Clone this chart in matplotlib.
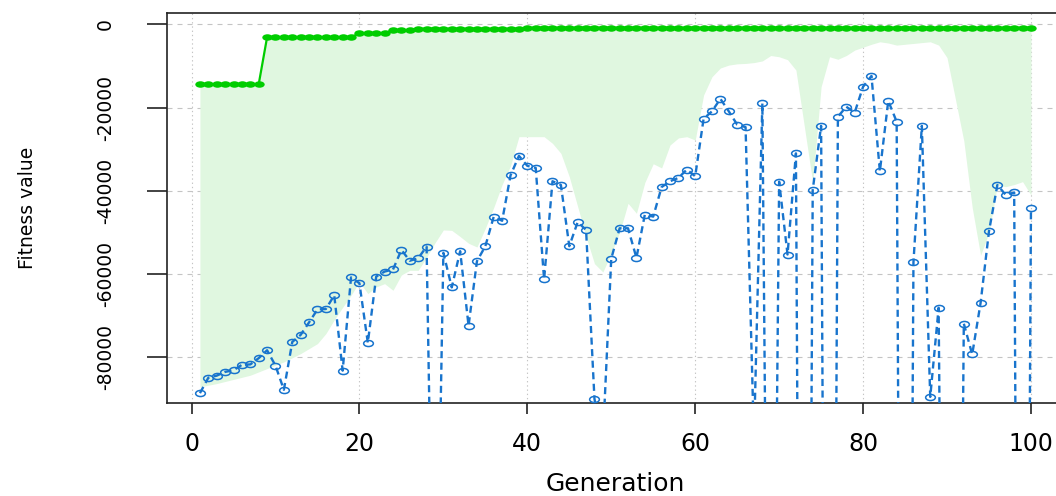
import numpy as np
import matplotlib
matplotlib.use("Agg")
import matplotlib.pyplot as plt
from matplotlib.path import Path

plt.rcParams['font.family'] = ['DejaVu Sans']
plt.rcParams['axes.unicode_minus'] = False

# GA run: best, mean and median fitness per generation
generation = list(range(1, 101))

best = ([-14400] * 8 + [-3100] * 11 + [-2200] * 4 + [-1400] * 3
        + [-1050] * 13 + [-800] * 61)

mean = [-88600, -84900, -84400, -83500, -83100, -81800, -81700, -80200, -78300, -82000,
        -87800, -76300, -74600, -71600, -68500, -68400, -65100, -83200, -60800, -62200,
        -76500, -60600, -59400, -58900, -54200, -56800, -56200, -53400, -170000, -54900,
        -63200, -54500, -72400, -56900, -53300, -46200, -47200, -36300, -31600, -34000,
        -34500, -61300, -37700, -38600, -53300, -47500, -49400, -90000, -100000, -56300,
        -49000, -49000, -56100, -45700, -46200, -39100, -37700, -36900, -34900, -36500,
        -22700, -20900, -17900, -20900, -24100, -24700, -100000, -19000, -250000, -37800,
        -55300, -31000, -400000, -39800, -24400, -400000, -22200, -19800, -21200, -15000,
        -12400, -35300, -18400, -23400, -400000, -57200, -24400, -89500, -68100, -300000,
        -300000, -71900, -79300, -66900, -49700, -38600, -41000, -40400, -400000, -44200]

median = [-87100, -86700, -86300, -85800, -85300, -84800, -84300, -83500, -82700, -81900,
          -81100, -80100, -79100, -77900, -76700, -74300, -71000, -68000, -65100, -61900,
          -64700, -63100, -62300, -63900, -60200, -59100, -59100, -56000, -52500, -49400,
          -49500, -51000, -52600, -53500, -49000, -44000, -38500, -34000, -27000, -27000,
          -27000, -27000, -28600, -31000, -36600, -43800, -51000, -57500, -59500, -55000,
          -50000, -43000, -45400, -38000, -33500, -34500, -29000, -27300, -27000, -27800,
          -17000, -12600, -10500, -9800, -9500, -9400, -9200, -8800, -7500, -7800,
          -8500, -11000, -24500, -38000, -15000, -7800, -8400, -7500, -6200, -5500,
          -4800, -4200, -4500, -5000, -4800, -4600, -4400, -4200, -5000, -8000,
          -18000, -28000, -44000, -55500, -50000, -38600, -39000, -38500, -37800, -41000]

xticks = [0, 20, 40, 60, 80, 100]
yticks = [0, -20000, -40000, -60000, -80000]

# slightly flattened circle markers
circ = Path.unit_circle()
ellipse = Path(circ.vertices * [1.6, 1.0], circ.codes)

fig = plt.figure(figsize=(10.56, 4.96), dpi=100)
ax = fig.add_axes([0.15786, 0.18810, 0.84991, 0.78508])

# grid
for x in xticks:
    ax.axvline(x, color='#c4c4c4', lw=0.8, ls=(0, (1.2, 2.6)), zorder=0)
for y in yticks:
    ax.axhline(y, color='#c4c4c4', lw=0.8, ls=(0, (4.5, 4.5)), zorder=0)

# band between median and best
ax.fill_between(generation, median, best, color='#e0f7e0', lw=0, zorder=1)

ax.plot(generation, best, color='#00cd00', lw=1.6, marker=ellipse,
        markersize=7.5, markeredgewidth=0, zorder=3)
ax.plot(generation, mean, color='#1874cd', lw=1.7, ls=(0, (3.0, 1.9)),
        marker=ellipse, markersize=7, markerfacecolor='none',
        markeredgecolor='#1874cd', markeredgewidth=1.1, zorder=4)

ax.set_xlim(-2.96, 103.96)
ax.set_ylim(-90900, 2640)
ax.set_xticks(xticks)
ax.set_yticks(yticks)
ax.set_yticklabels([str(v) for v in yticks], rotation=90, va='center')

for s in ax.spines.values():
    s.set_linewidth(1.2)
    s.set_color('#222222')
ax.tick_params(axis='x', length=8, width=1.2, pad=13, labelsize=17, color='#222222')
ax.tick_params(axis='y', length=14.4, width=1.2, pad=23, labelsize=13.5, color='#222222')

ax.set_xlabel('Generation', fontsize=18)
ax.xaxis.label.set_va('center')
ax.xaxis.set_label_coords(0.5, -0.209)
ax.set_ylabel('Fitness value', fontsize=13.5)
ax.yaxis.label.set_va('center')
ax.yaxis.set_label_coords(-0.155, 0.5)

fig.savefig('out.png', dpi=100)
